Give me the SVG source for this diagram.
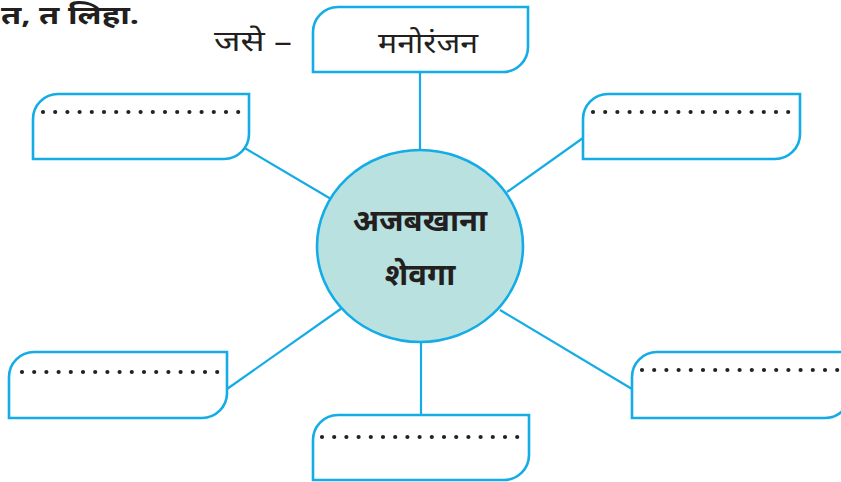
<svg xmlns="http://www.w3.org/2000/svg" width="841" height="482" viewBox="0 0 841 482">
<style>
.box{fill:#fff;stroke:#14ace6;stroke-width:2.6}
.ln{stroke:#14ace6;stroke-width:2.2;fill:none}
.dots{stroke:#222;stroke-width:4.2;stroke-linecap:round;stroke-dasharray:0 12.2}
.t{font-family:"Noto Sans","Noto Sans Devanagari","Liberation Sans",sans-serif;fill:#231f20}
</style>
<rect width="841" height="482" fill="#fff"/>
<text class="t" x="1" y="24" font-size="25" font-weight="bold" textLength="138" lengthAdjust="spacingAndGlyphs">त, त लिहा.</text>
<text class="t" x="214" y="51" font-size="28" textLength="78" lengthAdjust="spacingAndGlyphs">जसे –</text>
<g id="connectors">
<line class="ln" x1="420" y1="72" x2="420" y2="150"/>
<line class="ln" x1="243" y1="147" x2="331" y2="199"/>
<line class="ln" x1="583" y1="138" x2="507" y2="192"/>
<line class="ln" x1="227" y1="389" x2="342" y2="308"/>
<line class="ln" x1="421" y1="342" x2="421" y2="415"/>
<line class="ln" x1="632" y1="389" x2="500" y2="310"/>
</g>
<g id="center">
<ellipse cx="420" cy="246" rx="103" ry="96" fill="#b8e1e0" stroke="#14ace6" stroke-width="2.6"/>
<text class="t" x="420" y="231" font-size="31" font-weight="bold" text-anchor="middle">अजबखाना</text>
<text class="t" x="420" y="285" font-size="31" font-weight="bold" text-anchor="middle">शेवगा</text>
</g>
<g id="top">
<path class="box" d="M338,7 H528 V47 A25,25 0 0 1 503,72 H313 V32 A25,25 0 0 1 338,7 Z"/>
<text class="t" x="378" y="53" font-size="28" textLength="100" lengthAdjust="spacingAndGlyphs">मनोरंजन</text>
</g>
<g id="topleft">
<path class="box" d="M58,94 H249 V134 A25,25 0 0 1 224,159 H33 V119 A25,25 0 0 1 58,94 Z"/>
<line class="dots" x1="43" y1="112" x2="240" y2="112"/>
</g>
<g id="topright">
<path class="box" d="M608,94 H800 V134 A25,25 0 0 1 775,159 H583 V119 A25,25 0 0 1 608,94 Z"/>
<line class="dots" x1="593" y1="112" x2="790" y2="112"/>
</g>
<g id="bottomleft">
<path class="box" d="M34,352 H227 V393 A25,25 0 0 1 202,418 H9 V377 A25,25 0 0 1 34,352 Z"/>
<line class="dots" x1="22" y1="372" x2="219" y2="372"/>
</g>
<g id="bottomright">
<path class="box" d="M657,352 H850 V393 A25,25 0 0 1 825,418 H632 V377 A25,25 0 0 1 657,352 Z"/>
<line class="dots" x1="642" y1="370" x2="841" y2="370"/>
</g>
<g id="bottom">
<path class="box" d="M338,415 H529 V455 A25,25 0 0 1 504,480 H313 V440 A25,25 0 0 1 338,415 Z"/>
<line class="dots" x1="322" y1="437" x2="519" y2="437"/>
</g>
</svg>
